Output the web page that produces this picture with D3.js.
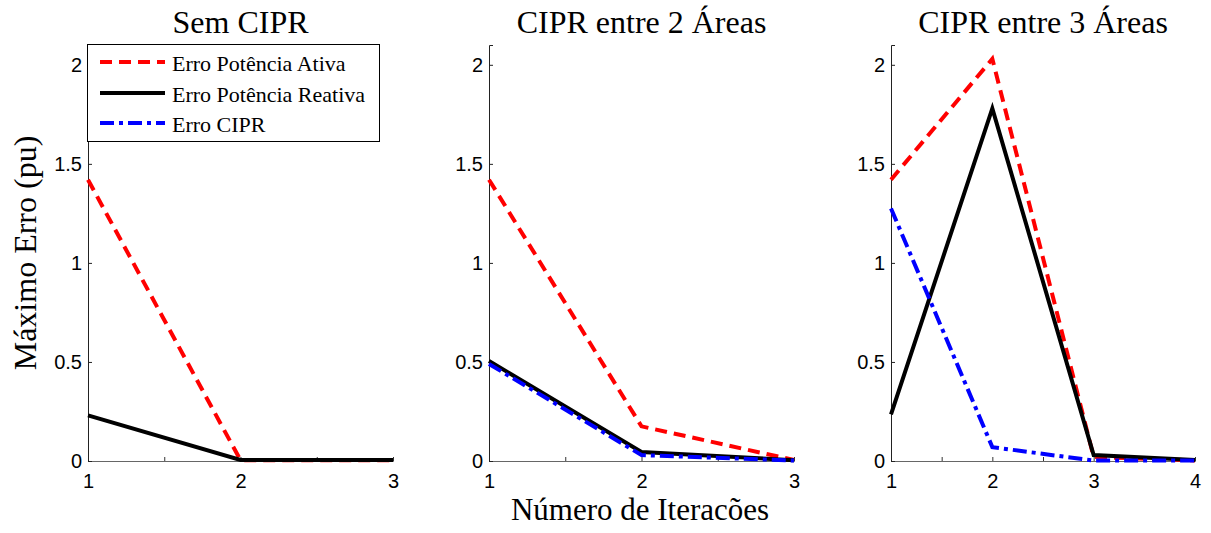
<!DOCTYPE html>
<html><head><meta charset="utf-8">
<script src="https://cdn.jsdelivr.net/npm/d3@7"></script>
<style>body{margin:0;background:#fff}svg{display:block}</style>
</head><body><svg id="c" width="1211" height="533"></svg>
<script>
// Maximum mismatch per iteration for three coordination setups
const panelTitles = ["Sem CIPR", "CIPR entre 2 Áreas", "CIPR entre 3 Áreas"];
const iterations = [[1, 2, 3], [1, 2, 3], [1, 2, 3, 4]];
const erroAtiva = [[1.42, 0.004, 0.004], [1.42, 0.175, 0.005], [1.42, 2.03, 0.02, 0.003]];
const erroReativa = [[0.23, 0.005, 0.005], [0.505, 0.045, 0.004], [0.235, 1.78, 0.03, 0.005]];
const erroCIPR = [null, [0.49, 0.03, 0.002], [1.275, 0.07, 0.002, 0.002]];
const yTicks = [0, 0.5, 1, 1.5, 2];
const seriesNames = ["Erro Potência Ativa", "Erro Potência Reativa", "Erro CIPR"];
const yAxisLabel = "Máximo Erro (pu)";
const xAxisLabel = "Número de Iteracões";

const styles = [
  {color: "#ff0000", dash: "12,7"},
  {color: "#000000", dash: null},
  {color: "#0000ff", dash: "14,5,4,5"}
];

const svg = d3.select("#c");
const serif = "'Liberation Serif','Times New Roman',serif";
const sans = "'Liberation Sans',Arial,sans-serif";

const panelX = [[88, 393], [489, 794], [891, 1195]];
const y = d3.scaleLinear().domain([0, 2.1]).range([461, 45]);

panelTitles.forEach((title, i) => {
  const xs = iterations[i];
  const x = d3.scaleLinear().domain([xs[0], xs[xs.length - 1]]).range(panelX[i]);
  const g = svg.append("g");

  // x axis with half-step ticks, labels on integers only
  const halfTicks = d3.range(xs[0], xs[xs.length - 1] + 0.01, 0.5);
  const xAxis = d3.axisBottom(x).tickValues(halfTicks)
    .tickSizeInner(-4).tickSizeOuter(-4).tickPadding(13)
    .tickFormat(d => Number.isInteger(d) ? d3.format("d")(d) : "");
  const gx = g.append("g").attr("transform", `translate(0,${y(0)})`).call(xAxis);
  gx.select(".domain").attr("stroke", "#666");
  gx.selectAll(".tick line").attr("stroke", "#333");
  gx.selectAll("text").attr("font-family", sans).attr("font-size", 20).attr("fill", "#000");

  // y axis
  const yAxis = d3.axisLeft(y).tickValues(yTicks)
    .tickSizeInner(-4).tickSizeOuter(-4).tickPadding(6)
    .tickFormat(d3.format("~g"));
  const gy = g.append("g").attr("transform", `translate(${x.range()[0]},0)`).call(yAxis);
  gy.select(".domain").attr("stroke", "#222");
  gy.selectAll(".tick line").attr("stroke", "#222");
  gy.selectAll("text").attr("font-family", sans).attr("font-size", 20).attr("fill", "#000");

  // title
  g.append("text")
    .attr("x", (x.range()[0] + x.range()[1]) / 2).attr("y", 33)
    .attr("text-anchor", "middle").attr("font-family", serif).attr("font-size", 32)
    .text(title);

  // series
  const line = d3.line().x((d, k) => x(xs[k])).y(d => y(d));
  [erroAtiva[i], erroReativa[i], erroCIPR[i]].forEach((vals, s) => {
    if (!vals) return;
    g.append("path").datum(vals)
      .attr("d", line).attr("fill", "none")
      .attr("stroke", styles[s].color).attr("stroke-width", 4)
      .attr("stroke-dasharray", styles[s].dash)
      .attr("stroke-linejoin", "miter");
  });
});

// legend
const lg = svg.append("g");
lg.append("rect").attr("x", 87.5).attr("y", 44.5).attr("width", 292).attr("height", 97)
  .attr("fill", "#fff").attr("stroke", "#000").attr("stroke-width", 1);
const rowY = [62, 93, 123];
seriesNames.forEach((name, s) => {
  lg.append("line").attr("x1", 100).attr("x2", 165).attr("y1", rowY[s]).attr("y2", rowY[s])
    .attr("stroke", styles[s].color).attr("stroke-width", 4)
    .attr("stroke-dasharray", styles[s].dash);
  lg.append("text").attr("x", 172).attr("y", rowY[s] + 9)
    .attr("font-family", serif).attr("font-size", 22).text(name);
});

// shared axis labels
svg.append("text").attr("transform", "translate(36,253) rotate(-90)")
  .attr("text-anchor", "middle").attr("font-family", serif).attr("font-size", 32)
  .text(yAxisLabel);
svg.append("text").attr("x", 640).attr("y", 520)
  .attr("text-anchor", "middle").attr("font-family", serif).attr("font-size", 31)
  .text(xAxisLabel);
</script>
</body></html>
